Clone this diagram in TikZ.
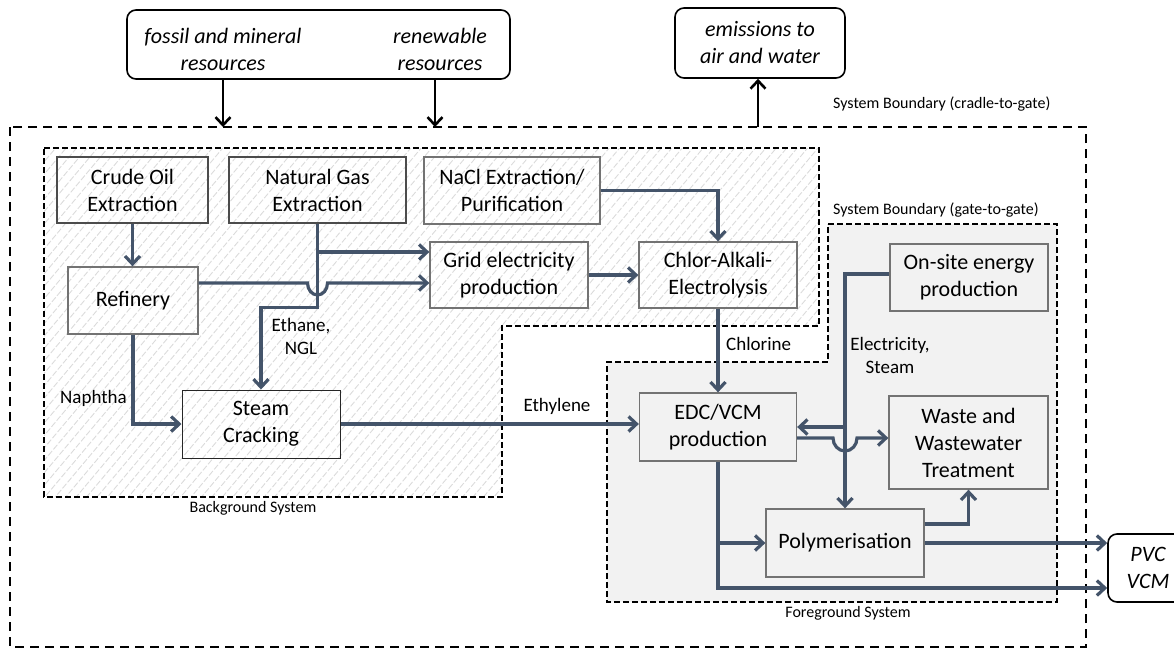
\documentclass[tikz,border=0pt]{standalone}
\usepackage{fontspec}
\setmainfont{Carlito}
\usetikzlibrary{arrows.meta,patterns.meta}
\definecolor{flowblue}{HTML}{44546A}
\definecolor{fgfill}{HTML}{F2F2F2}

\begin{document}
\begin{tikzpicture} [
    x=1pt, y=-1pt,
    proc/.style={rectangle,draw=black!55,line width=1.3pt,align=center,inner sep=0pt,
      font=\fontsize{22}{27}\selectfont},
    ext/.style={rectangle,rounded corners=9pt,draw=black,line width=1.6pt,align=center,inner sep=0pt,
      font=\fontsize{22}{27}\selectfont\itshape},
    flow/.style={draw=flowblue,line width=3.2pt,-{Straight Barb[length=8pt,width=15pt]}},
    feed/.style={draw=black,line width=2.6pt,-{Straight Barb[length=8pt,width=15pt]}},
    lbl/.style={font=\fontsize{19}{23}\selectfont,align=center,inner sep=0pt},
    sysb/.style={font=\fontsize{16}{19}\selectfont,inner sep=0pt},
    ]
    \useasboundingbox (0,0) rectangle (1174,650);

    % system boundaries
    \draw[line width=2.5pt,dash pattern=on 9pt off 6pt] (10,127) rectangle (1086,647);
    \coordinate (in1) at (223,127);
    \coordinate (in2) at (435,127);
    \coordinate (out1) at (758,127);
    \draw[line width=2.5pt,dash pattern=on 6pt off 3pt,
      pattern={Lines[angle=50,distance=8pt,line width=0.9pt]},pattern color=black!14]
      (44,148) -- (819,148) -- (819,326) -- (502,326) -- (502,497) -- (44,497) -- cycle;
    \draw[line width=2.5pt,dash pattern=on 6pt off 3pt,fill=fgfill]
      (828,224) -- (1057,224) -- (1057,602) -- (607,602) -- (607,362) -- (828,362) -- cycle;

    \node[sysb,anchor=west] (cglbl) at (833,104) {System Boundary (cradle-to-gate)};
    \node[sysb,anchor=west] (gglbl) at (833,210) {System Boundary (gate-to-gate)};
    \node[sysb] (bglbl) at (253,508) {Background System};
    \node[sysb] (fglbl) at (848,613) {Foreground System};

    % outside
    \node[ext,minimum width=383pt,minimum height=69pt] (res) at (318.5,44.5) {};
    \node[ext,draw=none] (fossil) at (223,49.5) {fossil and mineral\\resources};
    \node[ext,draw=none] (renew) at (440,49.5) {renewable\\resources};
    \node[ext,minimum width=170pt,minimum height=70pt] (emis) at (760,43) {emissions to\\air and water};
    \node[ext,minimum width=80pt,minimum height=68pt] (prod) at (1148,568) {PVC\\VCM};

    % background processes
    \node[proc,draw=black!70,line width=1.1pt,minimum width=151pt,minimum height=66pt] (crude) at (132.5,190) {Crude Oil\\Extraction};
    \node[proc,draw=black!70,line width=1.1pt,minimum width=177pt,minimum height=66pt] (natgas) at (317.5,190) {Natural Gas\\Extraction};
    \node[proc,minimum width=176pt,minimum height=67pt] (nacl) at (512,190.5) {NaCl Extraction/\\Purification};
    \node[proc,minimum width=130pt,minimum height=67pt] (refinery) at (133,300.5) {Refinery};
    \node[proc,minimum width=158pt,minimum height=66pt] (grid) at (509,275) {Grid electricity\\production};
    \node[proc,minimum width=158pt,minimum height=66pt] (chlor) at (718,275) {Chlor-Alkali-\\Electrolysis};
    \node[proc,draw=black!85,line width=1pt,minimum width=158pt,minimum height=68pt] (steam) at (261,424) {Steam\\Cracking};

    % foreground processes
    \node[proc,minimum width=157pt,minimum height=68pt] (edc) at (718,427) {EDC/VCM\\production};
    \node[proc,minimum width=158pt,minimum height=67pt] (onsite) at (969,277.5) {On-site energy\\production};
    \node[proc,minimum width=159pt,minimum height=93pt] (waste) at (968.5,442.5) {Waste and\\Wastewater\\Treatment};
    \node[proc,minimum width=158pt,minimum height=68pt] (poly) at (845,543) {Polymerisation};

    % resources and emissions
    \draw[feed] (res.south -| in1) -- (in1);
    \draw[feed] (res.south -| in2) -- (in2);
    \draw[feed] (out1) -- (emis.south -| out1);

    % background flows
    \draw[flow] (crude.south) -- (crude.south |- refinery.north);
    \draw[flow] (natgas.south) -- ++(0,84) -| (steam.north);
    \node[lbl] (ethane) at (301,336) {Ethane,\\NGL};
    \coordinate (gin1) at ([yshift=23pt]grid.west);
    \coordinate (gin2) at ([yshift=-8pt]grid.west);
    \draw[flow] (natgas.south |- gin1) -- (gin1);
    \draw[flow] (refinery.east |- gin2) -- ([xshift=-10pt]natgas.south |- gin2)
      arc[start angle=180,end angle=360,x radius=10pt,y radius=12pt] -- (gin2);
    \draw[flow] (grid.east) -- (chlor.west);
    \draw[flow] (nacl.east) -| (chlor.north);
    \draw[flow] (refinery.south) |- (steam.west);
    \node[lbl,anchor=east] (naphtha) at (127,398) {Naphtha};

    % into the foreground
    \draw[flow] (chlor.south) -- (edc.north);
    \node[lbl,anchor=west] (chlorine) at (726,344) {Chlorine};
    \draw[flow] (steam.east) -- (steam.east -| edc.west);
    \node[lbl] (ethylene) at (557,406) {Ethylene};

    % foreground flows
    \draw[flow] ([yshift=3.5pt]onsite.west) -| (poly.north);
    \draw[flow] (poly.north |- edc.east) -- (edc.east);
    \node[lbl] (elec) at (890,355) {Electricity,\\Steam};
    \coordinate (wout) at ([yshift=-11pt]edc.east);
    \draw[flow] (wout) -- ([xshift=-12pt]poly.north |- wout)
      arc[start angle=180,end angle=360,x radius=12pt,y radius=13pt] -- (wout -| waste.west);
    \draw[flow] (edc.south) |- ([yshift=-20pt]prod.west);
    \draw[flow] (edc.south |- poly.west) -- (poly.west);
    \draw[flow] (poly.east) -- (poly.east -| prod.west);
    \draw[flow] ([yshift=19pt]poly.east) -| (waste.south);
  \end{tikzpicture}
\end{document}
